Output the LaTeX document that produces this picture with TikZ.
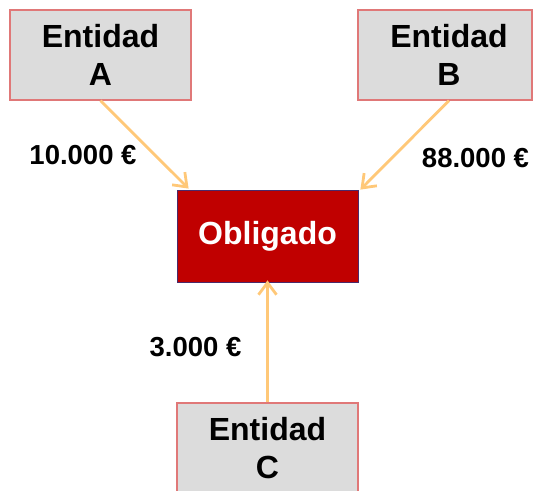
\documentclass[tikz,border=0pt]{standalone}
\usepackage{fontspec}
\setmainfont{Liberation Sans}
\usetikzlibrary{arrows.meta}
\definecolor{boxgray}{HTML}{DCDCDC}
\definecolor{boxred}{HTML}{E07878}
\definecolor{oblred}{HTML}{C00000}
\definecolor{oblborder}{HTML}{4A2A6A}
\definecolor{arrowor}{HTML}{FFC878}
\begin{document}
\begin{tikzpicture}[x=1pt,y=-1pt,
  entbox/.style={draw=boxred, line width=1.2pt, fill=boxgray, inner sep=0pt,
    align=center, font=\fontsize{32}{38}\selectfont\bfseries},
  oblbox/.style={draw=oblborder, line width=0.8pt, fill=oblred, inner sep=0pt,
    text=white, font=\fontsize{32}{38}\selectfont\bfseries,
    minimum width=181pt, minimum height=92pt},
  flow/.style={draw=arrowor, line width=2.8pt,
    -{Straight Barb[length=12pt,width=18pt,line width=2.8pt]}},
  amount/.style={font=\fontsize{27.5}{32}\selectfont\bfseries, inner sep=0pt}]
\useasboundingbox (0,0) rectangle (535,490);
\clip (0,0) rectangle (535,490);
\node[entbox, minimum width=181pt, minimum height=90pt] (A) at (100.5,55) {Entidad\\A};
\node[entbox, minimum width=174pt, minimum height=90pt] (B) at (445,55) {\hspace*{8pt}Entidad\\\hspace*{8pt}B};
\node[oblbox] (O) at (267.5,236) {\raisebox{-2pt}{Obligado}};
\node[entbox, minimum width=181pt, minimum height=90pt] (C) at (267.5,448) {Entidad\\C};
\coordinate (Atip) at ([xshift=12pt,yshift=1pt]O.north west);
\coordinate (Btip) at ([xshift=2pt,yshift=0pt]O.north east);
\draw[flow] (A.south) -- (Atip);
\draw[flow] ([xshift=4pt]B.south) -- (Btip);
\draw[flow] (C.north) -- ([yshift=2pt]O.south);
\node[amount] (la) at (83,155) {10.000 €};
\node[amount] (lb) at (475.5,158) {88.000 €};
\node[amount] (lc) at (195.5,347.5) {3.000 €};
\end{tikzpicture}
\end{document}
